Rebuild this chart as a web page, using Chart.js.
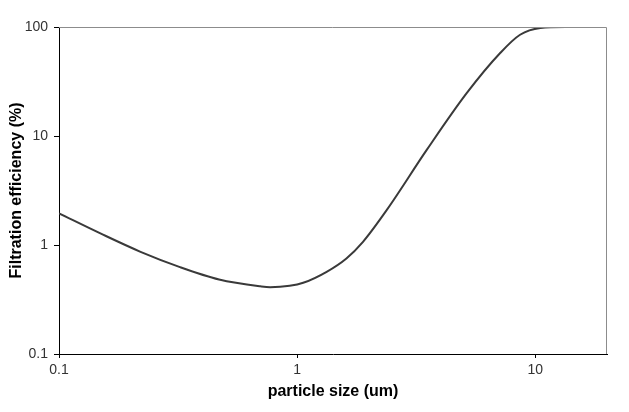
<!DOCTYPE html>
<html>
<head>
<meta charset="utf-8">
<script src="https://cdn.jsdelivr.net/npm/chart.js@4"></script>
<style>
  body { margin: 0; background: #fff; }
  #wrap { width: 629px; height: 412px; }
</style>
</head>
<body>
<div id="wrap"><canvas id="myChart" width="629" height="412"></canvas></div>
<script>
var particleSizes = [0.1, 0.15, 0.22, 0.32, 0.47, 0.7, 0.77, 0.93, 1.06, 1.33, 1.61, 1.89, 2.38, 3.5, 5.15, 7.12, 8.63, 10.5, 13.4, 15];
var efficiency = [1.95, 1.27, 0.866, 0.63, 0.483, 0.418, 0.41, 0.422, 0.45, 0.568, 0.753, 1.07, 2.1, 7.45, 24.7, 57.7, 84.9, 98, 100, 100];
var xTicks = [0.1, 1, 10];
var yTicks = [0.1, 1, 10, 100];

var points = [];
for (var i = 0; i < particleSizes.length; i++) {
  points.push({ x: particleSizes[i], y: efficiency[i] });
}

// gray frame on the top and right of the plot
var frameLines = {
  id: 'frameLines',
  afterDraw: function(chart) {
    var a = chart.chartArea;
    var ctx = chart.ctx;
    ctx.save();
    ctx.strokeStyle = '#8c8c8c';
    ctx.lineWidth = 1;
    ctx.beginPath();
    ctx.moveTo(a.left, a.top + 0.5);
    ctx.lineTo(a.right - 0.5, a.top + 0.5);
    ctx.lineTo(a.right - 0.5, a.bottom);
    ctx.stroke();
    ctx.restore();
  }
};

var ctx = document.getElementById('myChart').getContext('2d');
var myChart = new Chart(ctx, {
  type: 'line',
  data: {
    datasets: [{
      data: points,
      borderColor: '#3a3a3a',
      borderWidth: 2,
      pointRadius: 0,
      fill: false,
      cubicInterpolationMode: 'monotone'
    }]
  },
  options: {
    responsive: false,
    animation: false,
    layout: { padding: { left: 0, top: 27, right: 22, bottom: 0 } },
    plugins: {
      legend: { display: false },
      tooltip: { enabled: false }
    },
    scales: {
      x: {
        type: 'logarithmic',
        min: 0.1,
        max: 20,
        afterBuildTicks: function(scale) {
          scale.ticks = xTicks.map(function(v) { return { value: v }; });
        },
        afterFit: function(scale) { scale.height = 58; },
        ticks: {
          color: '#333',
          font: { family: 'Arial, "Liberation Sans"', size: 14 },
          maxRotation: 0,
          padding: 4,
          callback: function(v) { return String(v); }
        },
        grid: { drawOnChartArea: false, drawTicks: true, tickLength: 4, color: '#000' },
        border: { display: true, color: '#000', width: 1 },
        title: {
          display: true,
          text: 'particle size (um)',
          color: '#000',
          font: { family: 'Arial, "Liberation Sans"', size: 16, weight: 'bold' },
          padding: { top: 0, bottom: 11 }
        }
      },
      y: {
        type: 'logarithmic',
        min: 0.1,
        max: 100,
        afterBuildTicks: function(scale) {
          scale.ticks = yTicks.map(function(v) { return { value: v }; });
        },
        afterFit: function(scale) { scale.width = 59; },
        ticks: {
          color: '#333',
          font: { family: 'Arial, "Liberation Sans"', size: 14 },
          padding: 6,
          callback: function(v) { return String(v); }
        },
        grid: { drawOnChartArea: false, drawTicks: true, tickLength: 5, color: '#000' },
        border: { display: true, color: '#000', width: 1 },
        title: {
          display: true,
          text: 'Filtration efficiency (%)',
          color: '#000',
          font: { family: 'Arial, "Liberation Sans"', size: 16, weight: 'bold' },
          padding: { top: 7, bottom: 0 }
        }
      }
    }
  },
  plugins: [frameLines]
});
</script>
</body>
</html>
